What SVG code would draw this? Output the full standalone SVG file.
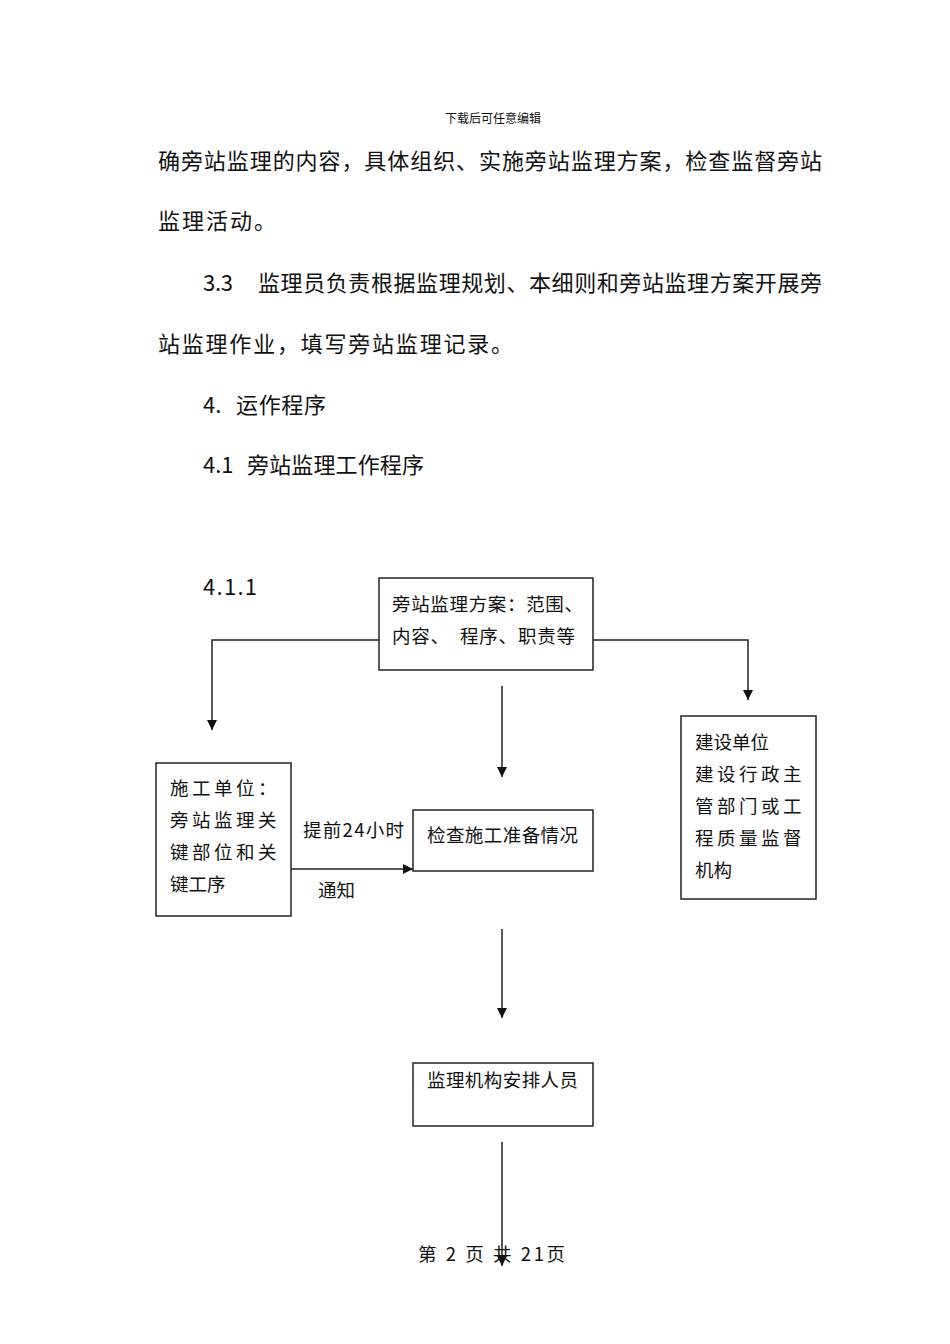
<svg xmlns="http://www.w3.org/2000/svg" width="950" height="1344" viewBox="0 0 950 1344">
<style>
text{font-family:"Noto Sans CJK SC","Noto Sans",sans-serif;fill:#111}
.b{font-size:22px}
.t{font-size:18.5px}
.s{letter-spacing:3.5px}
.box{fill:#fff;stroke:#222;stroke-width:1.5}
.ln{fill:none;stroke:#222;stroke-width:1.5}
</style>
<defs>
<marker id="ah" viewBox="0 0 10 10" refX="10" refY="5" markerWidth="10" markerHeight="10" markerUnits="userSpaceOnUse" orient="auto">
<path d="M0,0 L10,5 L0,10 Z" fill="#111"/>
</marker>
</defs>
<rect width="950" height="1344" fill="#fff"/>
<text x="493" y="123" font-size="12" text-anchor="middle">下载后可任意编辑</text>
<text class="b" x="158" y="169" textLength="664" lengthAdjust="spacing">确旁站监理的内容，具体组织、实施旁站监理方案，检查监督旁站</text>
<text class="b" x="158" y="229" textLength="118" lengthAdjust="spacing">监理活动。</text>
<text class="b" x="203" y="291" textLength="30" lengthAdjust="spacing">3.3</text>
<text class="b" x="258" y="291" textLength="564" lengthAdjust="spacing">监理员负责根据监理规划、本细则和旁站监理方案开展旁</text>
<text class="b" x="158" y="352" textLength="355" lengthAdjust="spacing">站监理作业，填写旁站监理记录。</text>
<text class="b" x="203" y="413">4.</text>
<text class="b" x="236" y="413" textLength="90" lengthAdjust="spacing">运作程序</text>
<text class="b" x="203" y="473">4.1</text>
<text class="b" x="247" y="473" textLength="177" lengthAdjust="spacing">旁站监理工作程序</text>
<text class="b" x="203" y="595" textLength="54" lengthAdjust="spacing">4.1.1</text>

<g id="connectors">
<polyline class="ln" points="379,640 212,640 212,730" marker-end="url(#ah)"/>
<polyline class="ln" points="593,640 748,640 748,700" marker-end="url(#ah)"/>
<line class="ln" x1="502" y1="686" x2="502" y2="777" marker-end="url(#ah)"/>
<line class="ln" x1="291" y1="869" x2="413" y2="869" marker-end="url(#ah)"/>
<line class="ln" x1="502" y1="929" x2="502" y2="1018" marker-end="url(#ah)"/>
<line class="ln" x1="502" y1="1142" x2="502" y2="1266" marker-end="url(#ah)"/>
</g>

<g id="plan">
<rect class="box" x="379" y="578" width="214" height="92"/>
<text class="t" x="392" y="611" textLength="191" lengthAdjust="spacing">旁站监理方案：范围、</text>
<text class="t" x="392" y="643" textLength="183" lengthAdjust="spacing">内容、　程序、职责等</text>
</g>

<g id="contractor">
<rect class="box" x="156" y="763" width="135" height="153"/>
<text class="t s" x="170" y="795">施工单位：</text>
<text class="t s" x="170" y="827">旁站监理关</text>
<text class="t s" x="170" y="859">键部位和关</text>
<text class="t" x="170" y="891">键工序</text>
</g>

<g id="label">
<text class="t" x="303" y="837" textLength="101" lengthAdjust="spacing">提前24小时</text>
<text class="t" x="318" y="897">通知</text>
</g>

<g id="check">
<rect class="box" x="413" y="810" width="180" height="61"/>
<text class="t" x="427" y="842" textLength="151" lengthAdjust="spacing">检查施工准备情况</text>
</g>

<g id="owner">
<rect class="box" x="681" y="716" width="135" height="183"/>
<text class="t" x="695" y="749">建设单位</text>
<text class="t s" x="695" y="781">建设行政主</text>
<text class="t s" x="695" y="813">管部门或工</text>
<text class="t s" x="695" y="845">程质量监督</text>
<text class="t" x="695" y="877">机构</text>
</g>

<g id="staff">
<rect class="box" x="413" y="1063" width="180" height="63"/>
<text class="t" x="427" y="1087" textLength="151" lengthAdjust="spacing">监理机构安排人员</text>
</g>

<text x="418" y="1261" font-size="18.5" textLength="147" lengthAdjust="spacing">第 2 页 共 21页</text>
</svg>
